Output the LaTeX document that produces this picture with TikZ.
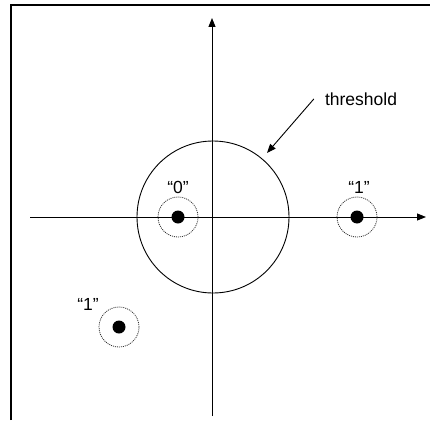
\documentclass[tikz,border=0pt]{standalone}
\usepackage{fontspec}
\setmainfont{Liberation Sans}
\usetikzlibrary{arrows.meta}
\begin{document}
\begin{tikzpicture}[x=1pt,y=-1pt,
  axis/.style={line width=0.9pt,-{Triangle[length=9pt,width=7pt]}},
  dot/.style={circle,fill=black,inner sep=0pt,minimum size=13pt},
  halo/.style={circle,draw=black!80,dash pattern=on 1pt off 1pt,line width=0.8pt,inner sep=0pt,minimum size=40pt},
  lbl/.style={font=\fontsize{17.5}{20}\selectfont,inner sep=0pt}]
\useasboundingbox (0,0) rectangle (430,420);
\draw[line width=2pt] (11,420) -- (11,5) -- (431,5);
\coordinate (xs) at (30,217);
\coordinate (xe) at (426,217);
\coordinate (ys) at (212,416);
\coordinate (ye) at (212,18);
\draw[axis] (xs) -- (xe);
\draw[axis] (ys) -- (ye);
\node[circle,draw,line width=0.9pt,inner sep=0pt,minimum size=152pt] (thc) at (213,217) {};
\node[halo] (h0) at (178,217) {};
\node[dot] (d0) at (178,217) {};
\node[halo] (h1) at (357,217) {};
\node[dot] (d1) at (357,217) {};
\node[halo] (h2) at (119,327) {};
\node[dot] (d2) at (119,327) {};
\node[lbl] (l0) at (178,187) {“0”};
\node[lbl] (l1) at (359,187) {“1”};
\node[lbl] (l2) at (88,304) {“1”};
\node[lbl] (thr) at (361,99) {threshold};
\coordinate (tp) at (267,153);
\draw[line width=0.9pt,-{Triangle[length=9pt,width=7pt]}] (thr.west) ++(-11,0) coordinate (ts) (ts) -- (tp);
\end{tikzpicture}
\end{document}
